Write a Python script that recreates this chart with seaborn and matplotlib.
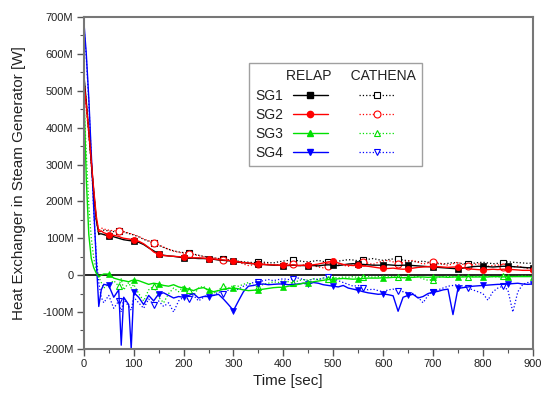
import matplotlib
matplotlib.use("Agg")
import matplotlib.pyplot as plt
import seaborn as sns
from matplotlib.lines import Line2D
from matplotlib.ticker import MultipleLocator, FuncFormatter

# time grid [sec]: dense in the first 100 s, then every 10 s
time_s = [0, 5, 10, 15, 20, 25, 30, 35, 40, 50, 60, 70, 75, 80, 90, 95, 100] + list(range(110, 901, 10))

# heat exchanged in each steam generator [MW]
sg1_relap = [545, 470, 390, 305, 225, 150, 112, 112, 110, 106, 104, 100, 98, 96, 94, 93, 92,
             89, 83, 74, 66, 58, 54, 52, 51, 49, 47,
             46, 46, 45, 45, 44, 43, 41, 40, 39, 37,
             35, 34, 32, 31, 30, 29, 28, 27, 27, 26,
             26, 27, 26, 26, 25, 26, 25, 27, 28, 27,
             26, 28, 30, 31, 30, 29, 28, 27, 27, 27,
             28, 27, 26, 27, 27, 26, 25, 24, 23, 22,
             21, 20, 19, 18, 17, 19, 21, 23, 24, 24,
             23, 22, 23, 24, 24, 23, 22, 21, 20, 20]
sg2_relap = [530, 460, 390, 310, 230, 160, 118, 120, 115, 110, 108, 105, 102, 100, 98, 97, 95,
             92, 85, 75, 63, 56, 53, 52, 51, 50, 49,
             48, 47, 47, 46, 45, 44, 42, 41, 40, 38,
             36, 34, 33, 31, 30, 29, 28, 28, 27, 27,
             27, 28, 26, 27, 27, 28, 30, 33, 36, 37,
             33, 29, 27, 26, 27, 25, 24, 22, 20, 18,
             18, 19, 17, 16, 17, 19, 21, 22, 23, 24,
             23, 22, 21, 22, 22, 20, 18, 16, 15, 14,
             15, 16, 15, 16, 16, 15, 14, 13, 13, 13]
sg3_relap = [500, 260, 110, 45, 20, 5, -5, 0, 3, 3, -8, -12, -14, -15, -18, -15, -13,
             -15, -20, -25, -22, -24, -28, -30, -26, -32, -35,
             -38, -42, -36, -34, -40, -45, -42, -38, -36, -35,
             -37, -40, -42, -41, -40, -38, -36, -34, -33, -33,
             -30, -28, -25, -22, -20, -18, -16, -14, -12, -11,
             -10, -9, -10, -11, -10, -9, -8, -8, -8, -7,
             -7, -6, -6, -7, -6, -6, -5, -5, -6, -5,
             -5, -5, -6, -5, -5, -5, -4, -5, -5, -5,
             -5, -4, -4, -5, -4, -4, -4, -4, -4, -4]
sg4_relap = [690, 600, 480, 330, 180, 40, -85, -40, -25, -28, -60, -40, -190, -60, -80, -200, -47,
             -60, -80, -55, -70, -51, -48, -55, -62, -58, -60,
             -55, -50, -62, -58, -58, -55, -52, -65, -80, -96,
             -70, -45, -30, -28, -25, -24, -26, -25, -24, -24,
             -26, -25, -24, -22, -25, -20, -22, -26, -28, -30,
             -32, -28, -35, -38, -41, -45, -48, -50, -52, -51,
             -53, -56, -98, -60, -55, -52, -62, -58, -50, -46,
             -44, -40, -38, -107, -36, -34, -32, -30, -29, -28,
             -27, -26, -25, -25, -24, -23, -22, -24, -25, -24]

sg1_cathena = [540, 465, 390, 305, 225, 150, 110, 120, 122, 120, 118, 119, 120, 117, 113, 111, 109,
               104, 97, 92, 87, 81, 75, 70, 66, 63, 61,
               59, 57, 54, 51, 49, 47, 45, 44, 42, 40,
               38, 36, 35, 34, 36, 35, 34, 33, 36, 38,
               40, 41, 39, 37, 36, 38, 40, 37, 35, 36,
               38, 40, 42, 41, 39, 40, 43, 45, 42, 40,
               42, 44, 43, 41, 39, 37, 36, 38, 35, 33,
               31, 30, 32, 34, 33, 31, 30, 32, 34, 35,
               33, 31, 32, 34, 36, 35, 34, 33, 32, 33]
sg2_cathena = [520, 450, 380, 300, 220, 150, 120, 128, 125, 122, 120, 121, 122, 118, 114, 112, 110,
               105, 98, 93, 88, 82, 76, 70, 65, 62, 60,
               58, 56, 53, 50, 48, 47, 45, 42, 40, 38,
               36, 30, 26, 28, 31, 33, 30, 27, 28, 30,
               32, 29, 25, 27, 30, 26, 22, 20, 24, 28,
               30, 27, 24, 28, 33, 36, 32, 29, 35, 38,
               40, 36, 30, 34, 38, 40, 35, 30, 33, 36,
               34, 30, 27, 31, 35, 29, 25, 28, 31, 27,
               24, 26, 28, 23, 20, 22, 25, 21, 18, 20]
sg3_cathena = [480, 330, 190, 100, 45, 15, -5, -20, -35, -25, -15, -30, -10, -40, -20, -35, -25,
               -50, -70, -40, -30, -60, -75, -50, -35, -45, -30,
               -40, -55, -35, -30, -45, -50, -40, -30, -35, -28,
               -30, -25, -20, -28, -32, -25, -22, -18, -20, -15,
               -18, -22, -15, -12, -14, -10, -12, -8, -10, -6,
               -8, -5, -6, -4, -7, -5, -3, -6, -4, -5,
               -3, -5, -4, -6, -8, -5, -4, -10, -14, -12,
               -6, -4, -3, -5, -4, -3, -5, -4, -3, -4,
               -3, -4, -5, -3, -2, -4, -3, -2, -3, -3]
sg4_cathena = [680, 590, 470, 320, 170, 50, -20, -60, -75, -55, -90, -70, -100, -65, -85, -95, -60,
               -75, -90, -65, -80, -70, -85, -75, -100, -70, -60,
               -65, -55, -70, -60, -50, -55, -45, -50, -40, -42,
               -38, -30, -25, -20, -18, -15, -12, -15, -12, -10,
               -12, -10, -8, -12, -15, -10, -12, -8, -6, -10,
               -15, -20, -25, -30, -28, -35, -40, -38, -42, -45,
               -40, -38, -42, -45, -48, -50, -60, -75, -55, -45,
               -40, -35, -30, -28, -25, -30, -35, -40, -45, -50,
               -68, -45, -35, -30, -40, -100, -45, -25, -20, -22]

sg_names = ["SG1", "SG2", "SG3", "SG4"]
sg_colors = ["black", "#ff0000", "#00e000", "#0000ff"]
sg_markers = ["s", "o", "^", "v"]
relap_data = [sg1_relap, sg2_relap, sg3_relap, sg4_relap]
cathena_data = [sg1_cathena, sg2_cathena, sg3_cathena, sg4_cathena]


def main():
    sns.set_style("ticks")
    plt.rcParams["font.family"] = ["Liberation Sans", "DejaVu Sans"]

    fig = plt.figure(figsize=(5.55, 3.96), dpi=100)
    ax = fig.add_axes([0.151, 0.119, 0.809, 0.838])

    relap_marks = [t > 0 and t % 50 == 0 for t in time_s]
    cathena_marks = [t > 0 and t % 70 == 0 for t in time_s]

    # CATHENA first (dotted, open markers), RELAP on top
    for i in [3, 2, 0, 1]:
        sns.lineplot(x=time_s, y=cathena_data[i], ax=ax, color=sg_colors[i],
                     linestyle=":", linewidth=0.9, marker=sg_markers[i],
                     markevery=cathena_marks, markersize=5,
                     markerfacecolor="white", markeredgecolor=sg_colors[i],
                     markeredgewidth=0.8)
    for i in [3, 2, 0, 1]:
        sns.lineplot(x=time_s, y=relap_data[i], ax=ax, color=sg_colors[i],
                     linestyle="-", linewidth=1.0, marker=sg_markers[i],
                     markevery=relap_marks, markersize=4.5,
                     markerfacecolor=sg_colors[i], markeredgecolor=sg_colors[i],
                     markeredgewidth=0.5)

    ax.axhline(0, color="black", linewidth=1.2, zorder=1)

    ax.set_xlim(0, 900)
    ax.set_ylim(-200, 700)
    ax.xaxis.set_major_locator(MultipleLocator(100))
    ax.xaxis.set_minor_locator(MultipleLocator(50))
    ax.yaxis.set_major_locator(MultipleLocator(100))
    ax.yaxis.set_minor_locator(MultipleLocator(50))
    ax.yaxis.set_major_formatter(FuncFormatter(lambda v, p: "0" if v == 0 else f"{v:.0f}M"))
    ax.tick_params(which="major", direction="out", length=5, width=1, labelsize=8,
                   colors="#555555", labelcolor="#222222", pad=2.5)
    ax.tick_params(which="minor", direction="out", length=3, width=0.8, colors="#555555")
    for sp in ax.spines.values():
        sp.set_color("#777777")
        sp.set_linewidth(1.5)

    ax.set_xlabel("Time [sec]", fontsize=11, color="#222222")
    ax.set_ylabel("Heat Exchanger in Steam Generator [W]", fontsize=11, color="#222222")
    ax.xaxis.set_label_coords(0.454, -0.075)
    ax.yaxis.set_label_coords(-0.129, 0.5)

    # legend: RELAP handles in the first column, CATHENA in the second
    relap_handles = [Line2D([], [], color=c, lw=1.0, marker=m, markersize=4.5,
                            markerfacecolor=c, markeredgecolor=c)
                     for c, m in zip(sg_colors, sg_markers)]
    cathena_handles = [Line2D([], [], color=c, lw=0.9, ls=":", marker=m, markersize=5,
                              markerfacecolor="white", markeredgecolor=c, markeredgewidth=0.8)
                       for c, m in zip(sg_colors, sg_markers)]
    leg = ax.legend(relap_handles + cathena_handles, sg_names + [""] * 4,
                    ncol=2, markerfirst=False, loc="upper left",
                    bbox_to_anchor=(0.3675, 0.8614), borderaxespad=0,
                    title="        RELAP     CATHENA", alignment="left",
                    fontsize=10, title_fontsize=10, frameon=True, fancybox=False,
                    edgecolor="#888888", handlelength=2.5, handletextpad=0.7,
                    columnspacing=1.6, labelspacing=0.37, borderpad=0.45)
    leg.get_frame().set_linewidth(1.0)
    leg._legend_box.sep = 4
    for txt in leg.get_texts():
        txt.set_color("#222222")
    leg.get_title().set_color("#222222")

    fig.savefig("out.png", dpi=100)


if __name__ == "__main__":
    main()
